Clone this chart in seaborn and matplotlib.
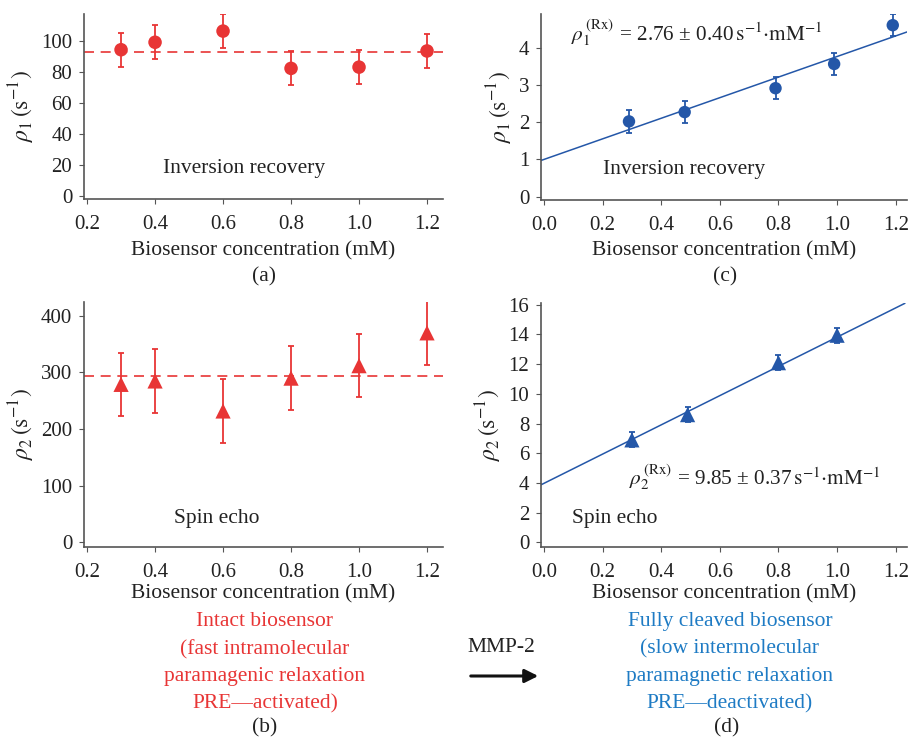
import numpy as np
import matplotlib
matplotlib.use("Agg")
import matplotlib.pyplot as plt
import seaborn as sns

# 資料
conc_intact = [0.3, 0.4, 0.6, 0.8, 1.0, 1.2]
rho1_intact = [94.2, 99.0, 106.2, 82.2, 83.0, 93.4]
rho1_intact_err = [11, 11, 11, 11, 11, 11]
rho1_intact_mean = 92.9
rho2_intact = [279, 285, 232, 290, 312, 370]
rho2_intact_err = [56, 56, 56, 56, 56, 56]
rho2_intact_mean = 293.8

conc_c = [0.29, 0.48, 0.79, 0.99, 1.19]
rho1_cleaved = [2.02, 2.27, 2.91, 3.56, 4.60]
rho1_cleaved_err = [0.30, 0.30, 0.30, 0.30, 0.30]
fit1 = (1.0, 2.76)  # intercept, slope

conc_d = [0.30, 0.49, 0.80, 1.00]
rho2_cleaved = [6.9, 8.6, 12.1, 13.95]
rho2_cleaved_err = [0.5, 0.5, 0.5, 0.5]
fit2 = (3.97, 9.85)

ticks_x_intact = [0.2, 0.4, 0.6, 0.8, 1.0, 1.2]
ticks_x_cleaved = [0.0, 0.2, 0.4, 0.6, 0.8, 1.0, 1.2]

red = "#E83535"
blue = "#2457A8"
blue_text = "#1E7BC4"
grey = "#555555"
txt = "#222222"

sns.set_style("ticks")
plt.rcParams["font.family"] = ["Liberation Serif", "DejaVu Serif"]
plt.rcParams["mathtext.fontset"] = "stix"
plt.rcParams["font.size"] = 15.5
plt.rcParams["xtick.labelsize"] = 15
plt.rcParams["ytick.labelsize"] = 15
plt.rcParams["axes.labelsize"] = 15.5
plt.rcParams["axes.edgecolor"] = grey
plt.rcParams["axes.linewidth"] = 1.2
plt.rcParams["xtick.color"] = grey
plt.rcParams["ytick.color"] = grey
plt.rcParams["xtick.labelcolor"] = txt
plt.rcParams["ytick.labelcolor"] = txt
plt.rcParams["xtick.major.size"] = 3.5
plt.rcParams["ytick.major.size"] = 3.5
plt.rcParams["text.color"] = txt
plt.rcParams["axes.labelcolor"] = txt

W, H = 909, 739
fig = plt.figure(figsize=(W / 100, H / 100), dpi=100)


def box(l, t, r, b):
    return [l / W, 1 - b / H, (r - l) / W, (b - t) / H]


def px(x, y):
    return x / W, 1 - y / H


ax_a = fig.add_axes(box(84, 14, 443, 199))
ax_c = fig.add_axes(box(541, 14, 907, 199.7))
ax_b = fig.add_axes(box(84, 301.7, 443, 547))
ax_d = fig.add_axes(box(541, 303.3, 907, 547))

xlab = "Biosensor concentration (mM)"
ylab1 = r"$\rho_1\,(\mathrm{s}^{-1})$"
ylab2 = r"$\rho_2\,(\mathrm{s}^{-1})$"

# (a)
ax_a.errorbar(conc_intact, rho1_intact, yerr=rho1_intact_err, fmt="none",
              ecolor=red, elinewidth=1.3, capsize=2.5, capthick=1.3)
sns.scatterplot(x=conc_intact, y=rho1_intact, ax=ax_a, color=red, s=95,
                marker="o", edgecolor="none", zorder=3)
ax_a.axhline(rho1_intact_mean, color=red, ls=(0, (6, 4)), lw=1.2)
ax_a.set_xlim(0.191, 1.247)
ax_a.set_ylim(-1.9, 117.2)
ax_a.set_yticks([0, 20, 40, 60, 80, 100])
ax_a.set_xticks(ticks_x_intact)
ax_a.set_ylabel(ylab1, labelpad=3, fontsize=17)
ax_a.text(0.22, 0.165, "Inversion recovery", transform=ax_a.transAxes,
          ha="left", va="center")

# (c)
ax_c.errorbar(conc_c, rho1_cleaved, yerr=rho1_cleaved_err, fmt="none",
              ecolor=blue, elinewidth=1.3, capsize=2.5, capthick=1.3)
sns.scatterplot(x=conc_c, y=rho1_cleaved, ax=ax_c, color=blue, s=80,
                marker="o", edgecolor="none", zorder=3)
ax_c.axline((0, fit1[0]), slope=fit1[1], color=blue, lw=1.1)
ax_c.set_xlim(-0.0102, 1.2386)
ax_c.set_ylim(-0.08, 4.9)
ax_c.set_yticks([0, 1, 2, 3, 4])
ax_c.set_xticks(ticks_x_cleaved)
ax_c.set_ylabel(ylab1, labelpad=3, fontsize=17)
ax_c.text(0.17, 0.165, "Inversion recovery", transform=ax_c.transAxes,
          ha="left", va="center")
ax_c.text(0.083, 0.9,
          r"$\rho_1^{\,(\mathrm{Rx})}$ = 2.76 ± 0.40$\,\mathrm{s}^{-1}{\cdot}\mathrm{mM}^{-1}$",
          transform=ax_c.transAxes, ha="left", va="center", fontsize=15.3)

# (b)
ax_b.errorbar(conc_intact, rho2_intact, yerr=rho2_intact_err, fmt="none",
              ecolor=red, elinewidth=1.3, capsize=2.5, capthick=1.3)
sns.scatterplot(x=conc_intact, y=rho2_intact, ax=ax_b, color=red, s=120,
                marker="^", edgecolor="none", zorder=3)
ax_b.axhline(rho2_intact_mean, color=red, ls=(0, (6, 4)), lw=1.2)
ax_b.set_xlim(0.191, 1.247)
ax_b.set_ylim(-8.3, 425)
ax_b.set_yticks([0, 100, 200, 300, 400])
ax_b.set_xticks(ticks_x_intact)
ax_b.set_ylabel(ylab2, labelpad=3, fontsize=17)
ax_b.text(0.25, 0.115, "Spin echo", transform=ax_b.transAxes,
          ha="left", va="center")

# (d)
ax_d.errorbar(conc_d, rho2_cleaved, yerr=rho2_cleaved_err, fmt="none",
              ecolor=blue, elinewidth=1.3, capsize=2.5, capthick=1.3)
sns.scatterplot(x=conc_d, y=rho2_cleaved, ax=ax_d, color=blue, s=120,
                marker="^", edgecolor="none", zorder=3)
ax_d.axline((0, fit2[0]), slope=fit2[1], color=blue, lw=1.1)
ax_d.set_xlim(-0.0102, 1.2386)
ax_d.set_ylim(-0.32, 16.1)
ax_d.set_yticks([0, 2, 4, 6, 8, 10, 12, 14, 16])
ax_d.set_xticks(ticks_x_cleaved)
ax_d.set_ylabel(ylab2, labelpad=3, fontsize=17)
ax_d.text(0.085, 0.115, "Spin echo", transform=ax_d.transAxes,
          ha="left", va="center")
ax_d.text(0.24, 0.285,
          r"$\rho_2^{\,(\mathrm{Rx})}$ = 9.85 ± 0.37$\,\mathrm{s}^{-1}{\cdot}\mathrm{mM}^{-1}$",
          transform=ax_d.transAxes, ha="left", va="center", fontsize=15.3)

for ax in (ax_a, ax_b, ax_c, ax_d):
    sns.despine(ax=ax)
    ax.xaxis.set_major_formatter(matplotlib.ticker.FormatStrFormatter("%.1f"))
    ax.tick_params(axis="x", pad=8)
    ax.tick_params(axis="y", pad=5)
for ax in (ax_a, ax_c):
    ax.set_xlabel(xlab, labelpad=5)
for ax in (ax_b, ax_d):
    ax.set_xlabel(xlab, labelpad=1.5)

# 標題與說明文字
fig.text(*px(264, 277), "(a)", ha="center", va="center")
fig.text(*px(725, 277), "(c)", ha="center", va="center")
fig.text(*px(265, 728), "(b)", ha="center", va="center")
fig.text(*px(727, 728), "(d)", ha="center", va="center")

fig.text(*px(265, 663), "Intact biosensor\n(fast intramolecular\nparamagenic relaxation\nPRE—activated)",
         ha="center", va="center", color=red, linespacing=1.58)
fig.text(*px(730, 663), "Fully cleaved biosensor\n(slow intermolecular\nparamagnetic relaxation\nPRE—deactivated)",
         ha="center", va="center", color=blue_text, linespacing=1.58)
fig.text(*px(501, 648), "MMP-2", ha="center", va="center")
fig.patches.append(matplotlib.patches.FancyArrowPatch(
    px(468, 676), px(541, 676), transform=fig.transFigure,
    arrowstyle="-|>,head_length=8,head_width=4", color="#111111", lw=2.2))

fig.savefig("out.png", dpi=100)
